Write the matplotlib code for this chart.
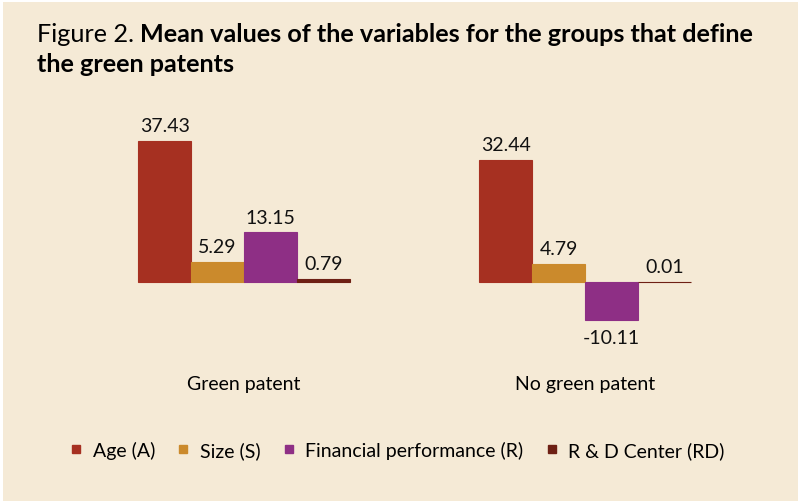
import matplotlib
matplotlib.use('Agg')
import matplotlib.pyplot as plt
from matplotlib.lines import Line2D
from matplotlib.patches import Rectangle
import numpy as np

plt.rcParams['font.family'] = ['Lato', 'DejaVu Sans']

groups = ['Green patent', 'No green patent']
series = ['Age (A)', 'Size (S)', 'Financial performance (R)', 'R & D Center (RD)']
values = [
    [37.43, 32.44],
    [5.29, 4.79],
    [13.15, -10.11],
    [0.79, 0.01],
]
colors = ['#A63021', '#CB8A2C', '#8E2F85', '#6E2014']
bg = '#F5EAD6'

fig = plt.figure(figsize=(7.98, 5.02), dpi=100)
fig.patch.set_facecolor(bg)
# thin white edge at top and left
fig.patches.append(Rectangle((0, 0), 3/798, 1, transform=fig.transFigure,
                             facecolor='white', edgecolor='none', zorder=-1))
fig.patches.append(Rectangle((0, 1 - 3/502), 1, 3/502, transform=fig.transFigure,
                             facecolor='white', edgecolor='none', zorder=-1))

ax = fig.add_axes([73.5/798, 1 - 358.4/502, 682/798, 226.2/502])
ax.set_facecolor('none')
ax.set_xlim(-0.5, 1.5)
ax.set_ylim(-20, 40)

x = np.arange(len(groups))
w = 0.155
for i, (name, vals) in enumerate(zip(series, values)):
    pos = x + (i - 1.5) * w
    bars = ax.bar(pos, vals, width=w, color=colors[i], edgecolor=colors[i],
                  linewidth=0.8, label=name)
    for b, v in zip(bars, vals):
        if v >= 0:
            ax.text(b.get_x() + w/2, v + 4.0, f'{v:.2f}', ha='center', va='center',
                    fontsize=14, color='#111111')
        else:
            ax.text(b.get_x() + w/2, v - 4.6, f'{v:.2f}', ha='center', va='center',
                    fontsize=14, color='#111111')

for s in ax.spines.values():
    s.set_visible(False)
ax.set_yticks([])
ax.set_xticks(x)
ax.set_xticklabels(groups, fontsize=14)
ax.tick_params(axis='x', length=0, pad=13)

t1 = fig.text(37/798, 1 - 35/502, 'Figure 2.', fontsize=18.2, va='center', ha='left')
fig.canvas.draw()
bb = t1.get_window_extent()
fig.text((bb.x1 + 6)/798, 1 - 35/502, 'Mean values of the variables for the groups that define',
         fontsize=18.2, fontweight='bold', va='center', ha='left')
fig.text(37/798, 1 - 64/502, 'the green patents', fontsize=18.2, fontweight='bold',
         va='center', ha='left')

handles = [Line2D([], [], marker='s', linestyle='none', markersize=6,
                  markerfacecolor=c, markeredgecolor=c) for c in colors]
fig.legend(handles, series, ncol=4, loc='center left',
           bbox_to_anchor=(54/798, 1 - 451/502), frameon=False, fontsize=14,
           handlelength=0.5, handletextpad=0.6, columnspacing=1.2)

fig.savefig('out.png', dpi=100, facecolor=fig.get_facecolor())
